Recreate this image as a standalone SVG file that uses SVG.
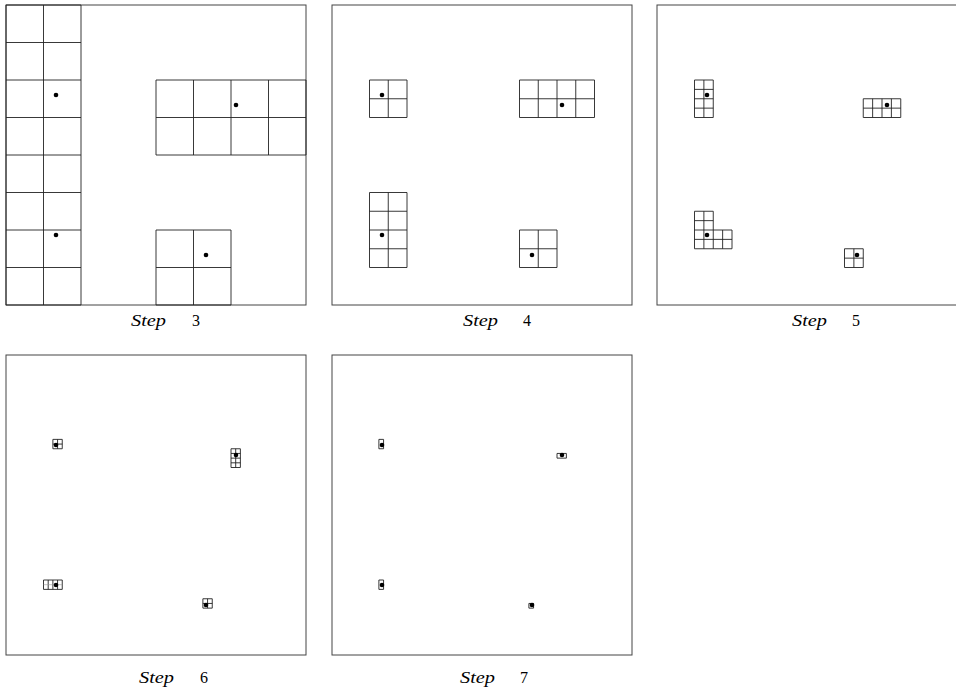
<svg xmlns="http://www.w3.org/2000/svg" width="956" height="692" viewBox="0 0 956 692">
<style>
.frame{fill:none;stroke:#444;stroke-width:1}
.grid{fill:none;stroke:#222;stroke-width:0.9}
.faint{fill:none;stroke:#999;stroke-width:0.6}
.dot{fill:#000}
.lbl{font-family:"Liberation Serif",serif;font-size:16px;fill:#000}
.it{font-style:italic}
</style>
<rect width="956" height="692" fill="#fff"/>

<g id="step3" transform="translate(6,5)">
<rect class="frame" x="0" y="0" width="300" height="300"/>
<g id="s3-left"><path class="grid" d="M0,0H75V300H0Z M37.5,0V300 M0,37.5H75 M0,75H75 M0,112.5H75 M0,150H75 M0,187.5H75 M0,225H75 M0,262.5H75"/></g>
<g id="s3-tr"><path class="grid" d="M150,75H300V150H150Z M187.5,75V150 M225,75V150 M262.5,75V150 M150,112.5H300"/></g>
<g id="s3-br"><path class="grid" d="M150,225H225V300H150Z M187.5,225V300 M150,262.5H225"/></g>
<circle class="dot" cx="50" cy="90" r="2.3"/>
<circle class="dot" cx="230" cy="100" r="2.3"/>
<circle class="dot" cx="50" cy="230" r="2.3"/>
<circle class="dot" cx="200" cy="250" r="2.3"/>
</g>
<text class="lbl" y="326"><tspan class="it" x="131" textLength="35" lengthAdjust="spacingAndGlyphs">Step</tspan><tspan x="192">3</tspan></text>

<g id="step4" transform="translate(332,5)">
<rect class="frame" x="0" y="0" width="300" height="300"/>
<g id="s4-tl"><path class="grid" d="M37.5,75H75V112.5H37.5Z M56.25,75V112.5 M37.5,93.75H75"/></g>
<g id="s4-tr"><path class="grid" d="M187.5,75H262.5V112.5H187.5Z M206.25,75V112.5 M225,75V112.5 M243.75,75V112.5 M187.5,93.75H262.5"/></g>
<g id="s4-bl"><path class="grid" d="M37.5,187.5H75V262.5H37.5Z M56.25,187.5V262.5 M37.5,206.25H75 M37.5,225H75 M37.5,243.75H75"/></g>
<g id="s4-br"><path class="grid" d="M187.5,225H225V262.5H187.5Z M206.25,225V262.5 M187.5,243.75H225"/></g>
<circle class="dot" cx="50" cy="90" r="2.3"/>
<circle class="dot" cx="230" cy="100" r="2.3"/>
<circle class="dot" cx="50" cy="230" r="2.3"/>
<circle class="dot" cx="200" cy="250" r="2.3"/>
</g>
<text class="lbl" y="326"><tspan class="it" x="463" textLength="35" lengthAdjust="spacingAndGlyphs">Step</tspan><tspan x="523">4</tspan></text>

<g id="step5" transform="translate(657,5)">
<rect class="frame" x="0" y="0" width="300" height="300"/>
<g id="s5-tl"><path class="grid" d="M37.5,75H56.25V112.5H37.5Z M46.875,75V112.5 M37.5,84.375H56.25 M37.5,93.75H56.25 M37.5,103.125H56.25"/></g>
<g id="s5-tr"><path class="grid" d="M206.25,93.75H243.75V112.5H206.25Z M215.625,93.75V112.5 M225,93.75V112.5 M234.375,93.75V112.5 M206.25,103.125H243.75"/></g>
<g id="s5-bl"><path class="grid" d="M37.5,206.25H56.25V225H75V243.75H37.5Z M46.875,206.25V243.75 M56.25,225V243.75 M65.625,225V243.75 M37.5,215.625H56.25 M37.5,225H56.25 M37.5,234.375H75"/></g>
<g id="s5-br"><path class="grid" d="M187.5,243.75H206.25V262.5H187.5Z M196.875,243.75V262.5 M187.5,253.125H206.25"/></g>
<circle class="dot" cx="50" cy="90" r="2.3"/>
<circle class="dot" cx="230" cy="100" r="2.3"/>
<circle class="dot" cx="50" cy="230" r="2.3"/>
<circle class="dot" cx="200" cy="250" r="2.3"/>
</g>
<text class="lbl" y="326"><tspan class="it" x="792" textLength="35" lengthAdjust="spacingAndGlyphs">Step</tspan><tspan x="852">5</tspan></text>

<g id="step6" transform="translate(6,355)">
<rect class="frame" x="0" y="0" width="300" height="300"/>
<g id="s6-tl"><path class="grid" d="M46.875,84.375H56.25V93.75H46.875Z M51.5625,84.375V93.75 M46.875,89.0625H56.25"/></g>
<g id="s6-tr"><path class="grid" d="M225,93.75H234.375V112.5H225Z M229.6875,93.75V112.5 M225,98.4375H234.375 M225,103.125H234.375 M225,107.8125H234.375"/></g>
<g id="s6-bl"><path class="grid" d="M37.5,225H56.25V234.375H37.5Z M42.1875,225V234.375 M46.875,225V234.375 M51.5625,225V234.375"/><path class="faint" d="M37.5,229.6875H56.25"/></g>
<g id="s6-br"><path class="grid" d="M196.875,243.75H206.25V253.125H196.875Z M201.5625,243.75V253.125 M196.875,248.4375H206.25"/></g>
<circle class="dot" cx="50" cy="90" r="2.3"/>
<circle class="dot" cx="230" cy="100" r="2.3"/>
<circle class="dot" cx="50" cy="230" r="2.3"/>
<circle class="dot" cx="200" cy="250" r="2.3"/>
</g>
<text class="lbl" y="683"><tspan class="it" x="139" textLength="35" lengthAdjust="spacingAndGlyphs">Step</tspan><tspan x="200">6</tspan></text>

<g id="step7" transform="translate(332,355)">
<rect class="frame" x="0" y="0" width="300" height="300"/>
<g id="s7-tl"><path class="grid" d="M46.875,84.375H51.5625V93.75H46.875Z"/></g>
<g id="s7-tr"><path class="grid" d="M225,98.4375H234.375V103.125H225Z"/></g>
<g id="s7-bl"><path class="grid" d="M46.875,225H51.5625V234.375H46.875Z"/></g>
<g id="s7-br"><path class="grid" d="M196.875,248.4375H201.5625V253.125H196.875Z"/></g>
<circle class="dot" cx="50" cy="90" r="2.3"/>
<circle class="dot" cx="230" cy="100" r="2.3"/>
<circle class="dot" cx="50" cy="230" r="2.3"/>
<circle class="dot" cx="200" cy="250" r="2.3"/>
</g>
<text class="lbl" y="683"><tspan class="it" x="460" textLength="35" lengthAdjust="spacingAndGlyphs">Step</tspan><tspan x="520">7</tspan></text>
</svg>
